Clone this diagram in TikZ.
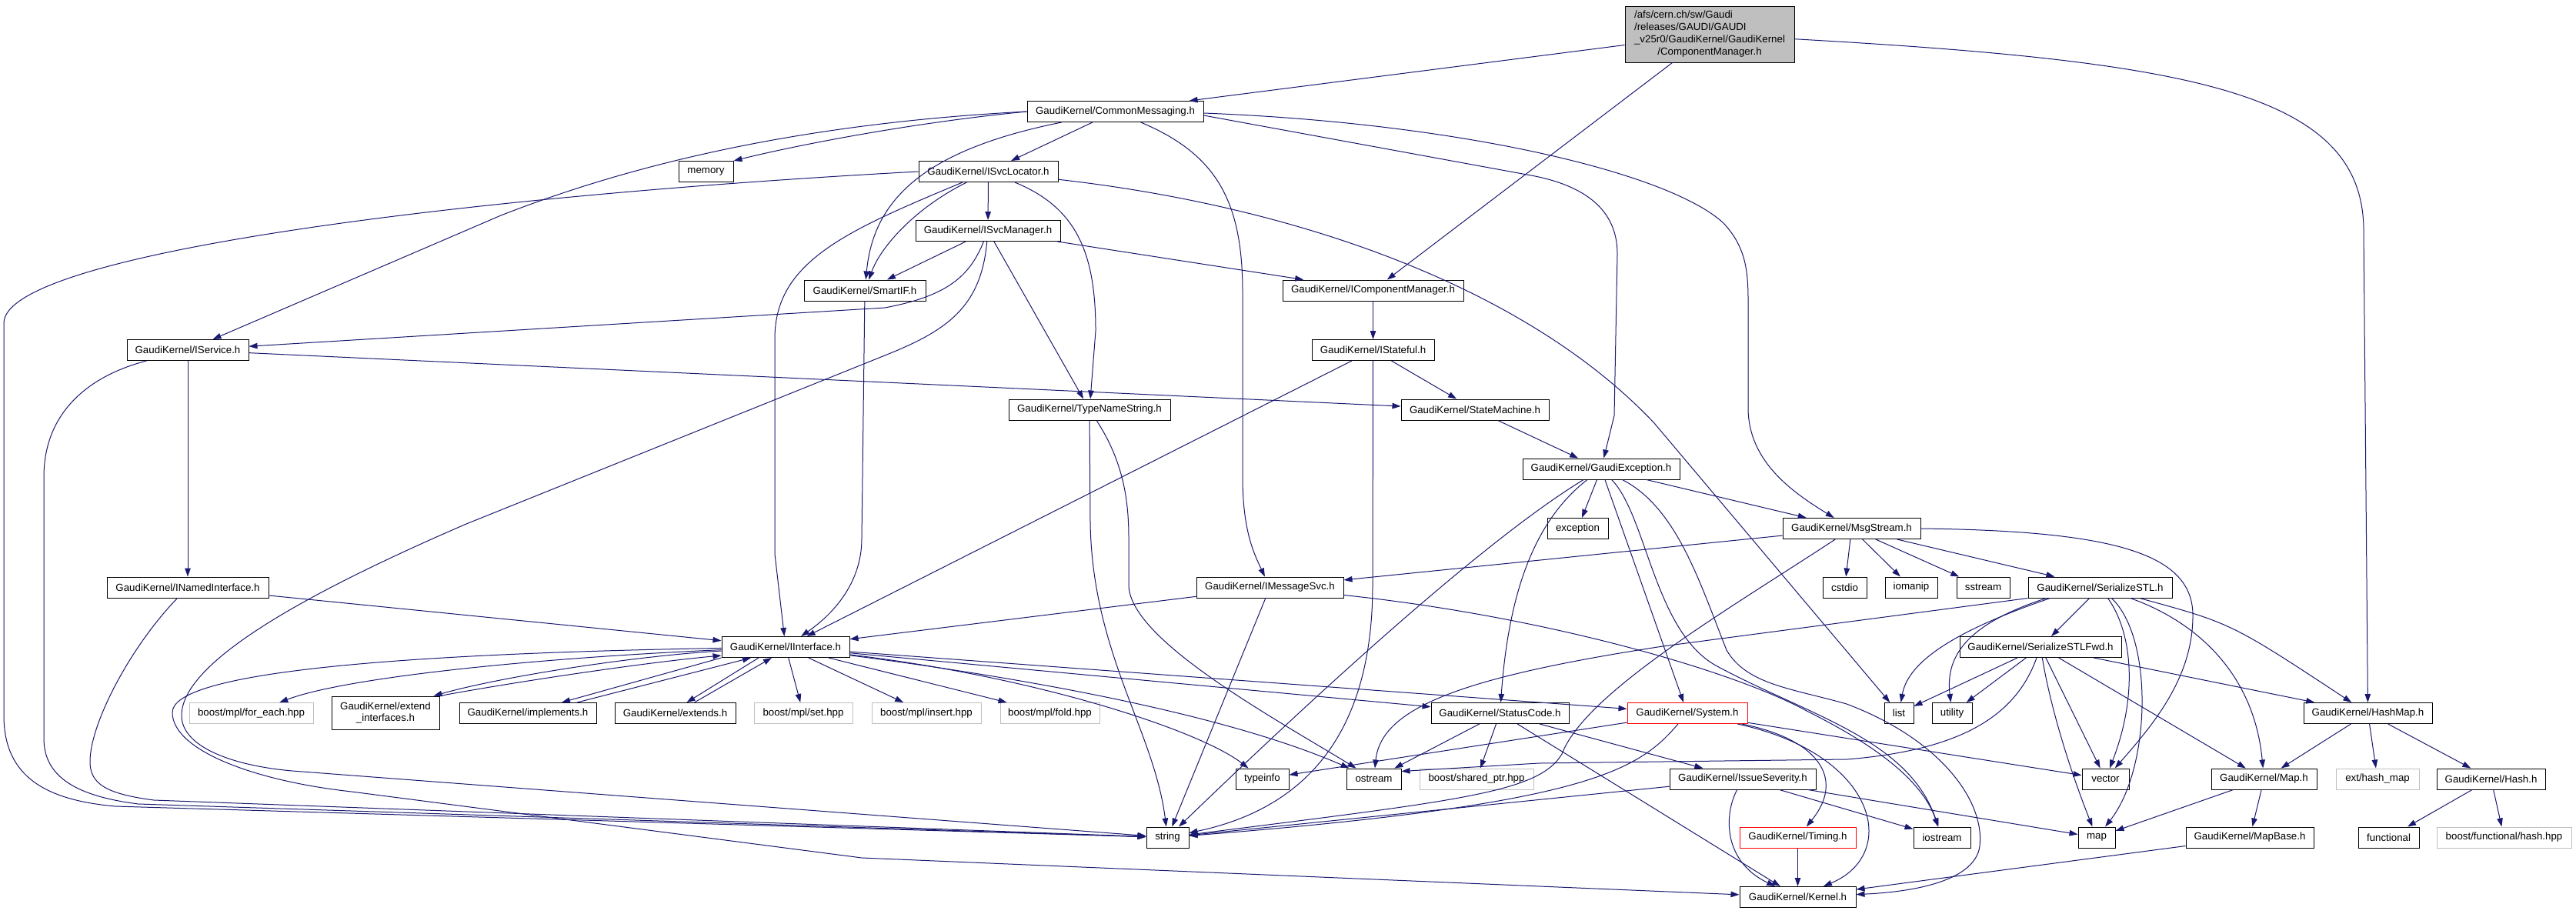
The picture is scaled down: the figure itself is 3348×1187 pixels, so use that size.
\documentclass[tikz,border=0pt]{standalone}
\usepackage{fontspec}
\setmainfont{Liberation Sans}
\usetikzlibrary{arrows.meta}
\definecolor{edgec}{HTML}{191970}
\definecolor{grayfill}{HTML}{BFBFBF}
\definecolor{extgray}{HTML}{BFBFBF}
\begin{document}
\begin{tikzpicture}[x=1pt,y=-1pt,
 box/.style={draw=black,line width=1pt,fill=white,minimum height=27pt,inner sep=0pt,text=black,font=\fontsize{13.3}{15.9}\selectfont},
 extbox/.style={box,draw=extgray},
 redbox/.style={box,draw=red},
 e/.style={draw=edgec,line width=1pt,-{Triangle[length=11pt,width=7.5pt]}}]
\useasboundingbox (0,0) rectangle (3348,1187);
\fill[white] (0,0) rectangle (3348,1187);

% ---------- nodes ----------
\node[box,fill=grayfill,minimum width=220pt,minimum height=73pt] (main) at (2222,44.5)
 {\begin{tabular}{@{}l@{}}/afs/cern.ch/sw/Gaudi\\/releases/GAUDI/GAUDI\\\_v25r0/GaudiKernel/GaudiKernel\\\multicolumn{1}{@{}c@{}}{/ComponentManager.h}\end{tabular}};
\node[box,minimum width=229pt] (CM) at (1449.5,145) {GaudiKernel/CommonMessaging.h};
\node[box,minimum width=71pt] (memory) at (917.5,223) {memory};
\node[box,minimum width=181pt] (ISvcLocator) at (1284.5,223) {GaudiKernel/ISvcLocator.h};
\node[box,minimum width=188pt] (ISvcManager) at (1284,300) {GaudiKernel/ISvcManager.h};
\node[box,minimum width=158pt] (SmartIF) at (1124,377.5) {GaudiKernel/SmartIF.h};
\node[box,minimum width=235pt] (ICM) at (1784.5,377.5) {GaudiKernel/IComponentManager.h};
\node[box,minimum width=158pt] (IService) at (244,455) {GaudiKernel/IService.h};
\node[box,minimum width=159pt] (IStateful) at (1784.5,455) {GaudiKernel/IStateful.h};
\node[box,minimum width=210pt] (TNS) at (1416,532.5) {GaudiKernel/TypeNameString.h};
\node[box,minimum width=192pt] (SM) at (1917,532.5) {GaudiKernel/StateMachine.h};
\node[box,minimum width=204pt] (GE) at (2081,609.5) {GaudiKernel/GaudiException.h};
\node[box,minimum width=79pt] (exception) at (2050.5,687) {exception};
\node[box,minimum width=179pt] (MsgStream) at (2406.5,687) {GaudiKernel/MsgStream.h};
\node[box,minimum width=210pt] (INamed) at (244,763.5) {GaudiKernel/INamedInterface.h};
\node[box,minimum width=191pt] (IMsgSvc) at (1650.5,763.5) {GaudiKernel/IMessageSvc.h};
\node[box,minimum width=57pt] (cstdio) at (2397.5,763.5) {cstdio};
\node[box,minimum width=68pt] (iomanip) at (2484,763.5) {iomanip};
\node[box,minimum width=69pt] (sstream) at (2577.5,763.5) {sstream};
\node[box,minimum width=187pt] (SSTL) at (2729.5,763.5) {GaudiKernel/SerializeSTL.h};
\node[box,minimum width=166pt] (IInterface) at (1021,841) {GaudiKernel/IInterface.h};
\node[box,minimum width=210pt] (SSTLFwd) at (2652,841) {GaudiKernel/SerializeSTLFwd.h};
\node[extbox,minimum width=161pt] (foreach) at (326.5,927) {boost/mpl/for\_each.hpp};
\node[box,minimum width=140pt,minimum height=43pt,align=center] (extend) at (501,926.5) {GaudiKernel/extend\\\_interfaces.h};
\node[box,minimum width=178pt] (implements) at (686,927) {GaudiKernel/implements.h};
\node[box,minimum width=157pt] (extends) at (877.5,927) {GaudiKernel/extends.h};
\node[extbox,minimum width=128pt] (mplset) at (1044,927) {boost/mpl/set.hpp};
\node[extbox,minimum width=142pt] (mplinsert) at (1204,927) {boost/mpl/insert.hpp};
\node[extbox,minimum width=129pt] (mplfold) at (1364.5,927) {boost/mpl/fold.hpp};
\node[box,minimum width=179pt] (StatusCode) at (1949.5,927) {GaudiKernel/StatusCode.h};
\node[redbox,minimum width=156pt] (System) at (2193,927) {GaudiKernel/System.h};
\node[box,minimum width=38pt] (list) at (2468,927) {list};
\node[box,minimum width=52pt] (utility) at (2537,927) {utility};
\node[box,minimum width=167pt] (HashMap) at (3077.5,927) {GaudiKernel/HashMap.h};
\node[box,minimum width=69pt] (typeinfo) at (1640.5,1012.5) {typeinfo};
\node[box,minimum width=71pt] (ostream) at (1785.5,1012.5) {ostream};
\node[extbox,minimum width=148pt] (sharedptr) at (1919,1012.5) {boost/shared\_ptr.hpp};
\node[box,minimum width=190pt] (IssueSev) at (2265,1012.5) {GaudiKernel/IssueSeverity.h};
\node[box,minimum width=61pt] (vector) at (2736.5,1012.5) {vector};
\node[box,minimum width=137pt] (Map) at (2942.5,1012.5) {GaudiKernel/Map.h};
\node[extbox,minimum width=108pt] (exthashmap) at (3090,1012.5) {ext/hash\_map};
\node[box,minimum width=141pt] (Hash) at (3237.5,1012.5) {GaudiKernel/Hash.h};
\node[box,minimum width=55pt] (string) at (1517.5,1088.5) {string};
\node[redbox,minimum width=151pt] (Timing) at (2336.5,1088.5) {GaudiKernel/Timing.h};
\node[box,minimum width=74pt] (iostream) at (2524,1088.5) {iostream};
\node[box,minimum width=48pt] (map) at (2725,1088.5) {map};
\node[box,minimum width=166pt] (MapBase) at (2924,1088.5) {GaudiKernel/MapBase.h};
\node[box,minimum width=79pt] (functional) at (3104.5,1088.5) {functional};
\node[extbox,minimum width=175pt] (bfhash) at (3254.5,1088.5) {boost/functional/hash.hpp};
\node[box,minimum width=151pt] (Kernel) at (2336.5,1166) {GaudiKernel/Kernel.h};

% ---------- edges ----------
% main
\draw[e] (main) -- ([xshift=96pt]CM.north);
\draw[e] (main) -- (ICM);
\draw[e] (main) .. controls (2850,80) and (3072,120) .. (3072,300) -- (HashMap);
% CommonMessaging
\draw[e] (CM.west) .. controls (1180,160) and (1030,190) .. (memory.north east);
\draw[e] (CM.west) .. controls (1050,160) and (830,210) .. (651,280) -- (IService);
\draw[e] (CM) .. controls (1200,195) and (1135,260) .. (SmartIF);
\draw[e] (CM) -- (ISvcLocator);
\draw[e] (CM) .. controls (1580,200) and (1615,260) .. (1615,380) -- (1615,620) .. controls (1615,690) and (1630,720) .. (IMsgSvc);
\draw[e] ([yshift=-5pt]CM.east) -- (1990,228) .. controls (2070,243) and (2102,280) .. (2102,330) -- (2098,540) -- (GE);
\draw[e] ([yshift=-2pt]CM.east) .. controls (1900,160) and (2170,225) .. (2240,290) .. controls (2268,320) and (2272,350) .. (2272,390) -- (2272,530) .. controls (2272,600) and (2330,640) .. (MsgStream);
% ISvcLocator
\draw[e] (ISvcLocator) -- (ISvcManager);
\draw[e] (ISvcLocator) .. controls (1190,270) and (1145,320) .. (SmartIF);
\draw[e] (ISvcLocator) .. controls (1400,270) and (1424,330) .. (1424,430) -- (TNS);
\draw[e] (ISvcLocator) .. controls (1100,300) and (1007,340) .. (1007,440) -- (1007,720) -- (IInterface);
\draw[e] (ISvcLocator.west) .. controls (600,255) and (5,330) .. (5,420) -- (5,930) .. controls (5,1010) and (60,1040) .. (150,1048) -- (string);
\draw[e] (ISvcLocator) .. controls (1700,270) and (1990,380) .. (2150,550) -- (list);
% ISvcManager
\draw[e] (ISvcManager) -- (SmartIF);
\draw[e] (ISvcManager) -- (ICM);
\draw[e] (ISvcManager) -- (TNS);
\draw[e] (ISvcManager) .. controls (1260,360) and (1230,385) .. (1150,400) -- (IService);
\draw[e] (ISvcManager) .. controls (1275,400) and (1230,430) .. (1150,462) -- (606,681) .. controls (400,770) and (236,860) .. (236,930) .. controls (236,970) and (300,995) .. (380,1002) -- (string);
% SmartIF
\draw[e] (SmartIF) -- (1120,700) .. controls (1120,760) and (1080,800) .. (IInterface);
% IService
\draw[e] (IService) -- (INamed);
\draw[e] (IService) -- (SM);
\draw[e] (IService) .. controls (110,490) and (57,540) .. (57,620) -- (57,960) .. controls (57,1010) and (100,1035) .. (180,1045) -- (string);
% INamedInterface
\draw[e] (INamed) -- (IInterface);
\draw[e] (INamed) .. controls (170,840) and (117,940) .. (117,990) .. controls (117,1020) and (140,1032) .. (200,1040) -- (string);
% IComponentManager / IStateful
\draw[e] (ICM) -- (IStateful);
\draw[e] (IStateful) -- (SM);
\draw[e] (IStateful) -- (IInterface);
\draw[e] (IStateful) -- (1784,760) .. controls (1784,950) and (1700,1050) .. (string);
% TypeNameString
\draw[e] (TNS) -- (1417,680) .. controls (1420,850) and (1500,950) .. (string);
\draw[e] (TNS) .. controls (1460,600) and (1467,650) .. (1467,700) -- (1467,760) .. controls (1467,830) and (1650,930) .. (ostream);
% StateMachine
\draw[e] (SM) -- (GE);
% GaudiException
\draw[e] (GE) -- (exception);
\draw[e] (GE) .. controls (1990,680) and (1960,780) .. (StatusCode);
\draw[e] (GE) -- (System);
\draw[e] (GE) .. controls (1900,720) and (1620,990) .. (string);
\draw[e] (GE) -- (MsgStream);
\draw[e] (GE) .. controls (2140,670) and (2150,820) .. (2230,865) .. controls (2350,930) and (2480,960) .. (iostream);
\draw[e] (GE) .. controls (2180,660) and (2210,760) .. (2244,845) .. controls (2270,890) and (2330,895) .. (2400,915) .. controls (2520,960) and (2580,1040) .. (2573,1100) .. controls (2566,1150) and (2470,1160) .. (Kernel);
% MsgStream
\draw[e] (MsgStream) -- (cstdio);
\draw[e] (MsgStream) -- (iomanip);
\draw[e] (MsgStream) -- (sstream);
\draw[e] (MsgStream) -- (SSTL);
\draw[e] (MsgStream.east) .. controls (2750,690) and (2850,720) .. (2850,800) .. controls (2850,880) and (2800,940) .. (vector);
\draw[e] (MsgStream) -- (IMsgSvc);
\draw[e] (MsgStream) .. controls (2250,790) and (2060,900) .. (2030,980) .. controls (2000,1030) and (1900,1040) .. (string);
% SerializeSTL
\draw[e] (SSTL) -- (SSTLFwd);
\draw[e] ([xshift=-65pt]SSTL.south) .. controls (2540,820) and (2480,860) .. (list);
\draw[e] ([xshift=-70pt]SSTL.south) .. controls (2560,810) and (2528,850) .. (utility);
\draw[e] (SSTL.south west) -- (2161,840) .. controls (1900,880) and (1795,920) .. (ostream);
\draw[e] (SSTL) .. controls (2770,820) and (2780,900) .. (vector);
\draw[e] (SSTL) .. controls (2800,830) and (2795,1000) .. (map);
\draw[e] (SSTL) .. controls (2860,810) and (2930,880) .. (Map);
\draw[e] (SSTL) .. controls (2900,810) .. (HashMap);
% SerializeSTLFwd
\draw[e] (SSTLFwd) -- (list);
\draw[e] (SSTLFwd) -- (utility);
\draw[e] (SSTLFwd) -- (vector);
\draw[e] (SSTLFwd) .. controls (2665,920) and (2690,1000) .. (map);
\draw[e] (SSTLFwd) -- (Map);
\draw[e] (SSTLFwd) -- (HashMap);
\draw[e] (SSTLFwd) .. controls (2620,930) and (2550,975) .. (2400,987) -- (2000,992) -- ([yshift=10pt]ostream.east);
% HashMap, Map, MapBase, Hash
\draw[e] (HashMap) -- (Map);
\draw[e] (HashMap) -- (exthashmap);
\draw[e] (HashMap) -- (Hash);
\draw[e] (Map) -- (map);
\draw[e] (Map) -- (MapBase);
\draw[e] (MapBase) -- (Kernel);
\draw[e] (Hash) -- (functional);
\draw[e] (Hash) -- (bfhash);
% IMessageSvc
\draw[e] (IMsgSvc) -- (IInterface);
\draw[e] (IMsgSvc) -- (string);
\draw[e] ([yshift=-10pt]IMsgSvc.east) .. controls (2000,800) and (2250,870) .. (2350,925) .. controls (2450,975) and (2500,1020) .. (iostream);
% StatusCode
\draw[e] (StatusCode) -- (ostream);
\draw[e] (StatusCode) -- (sharedptr);
\draw[e] (StatusCode) -- (IssueSev);
\draw[e] (StatusCode) -- (Kernel);
% System
\draw[e] (System) -- (typeinfo);
\draw[e] (System) .. controls (2130,1000) and (2070,1045) .. (string);
\draw[e] (System) -- (vector);
\draw[e] (System) .. controls (2360,960) and (2400,1010) .. (Timing);
\draw[e] (System) .. controls (2440,980) and (2470,1110) .. (Kernel);
% IssueSeverity
\draw[e] (IssueSev) -- (string);
\draw[e] (IssueSev) -- (iostream);
\draw[e] (IssueSev) -- (map);
\draw[e] (IssueSev) .. controls (2240,1060) and (2240,1120) .. (Kernel);
% Timing
\draw[e] (Timing) -- (Kernel);
% IInterface
\draw[e] (IInterface) .. controls (700,855) and (450,880) .. (foreach);
\draw[e] ([yshift=-5pt]IInterface.west) .. controls (820,853) and (650,880) .. ([xshift=-8pt]extend.north east);
\draw[e] (extend.north east) .. controls (660,888) and (830,862) .. ([yshift=-11pt]IInterface.west);
\draw[e] (IInterface.south west) -- ([xshift=44pt]implements.north);
\draw[e] ([xshift=64pt]implements.north) -- ([xshift=-45pt]IInterface.south);
\draw[e] ([xshift=-35pt]IInterface.south) -- ([xshift=15pt]extends.north);
\draw[e] ([xshift=25pt]extends.north) -- ([xshift=-18pt]IInterface.south);
\draw[e] (IInterface) -- (mplset);
\draw[e] (IInterface) -- (mplinsert);
\draw[e] (IInterface) -- (mplfold);
\draw[e] (IInterface) .. controls (1350,880) and (1560,950) .. (typeinfo);
\draw[e] (IInterface) .. controls (1400,890) and (1620,940) .. (ostream);
\draw[e] (IInterface) -- (StatusCode);
\draw[e] (IInterface) -- (System);
\draw[e] (IInterface) .. controls (500,850) and (224,875) .. (224,926) .. controls (224,975) and (330,1015) .. (457,1029) -- (1120,1115) -- (Kernel);
\end{tikzpicture}
\end{document}
